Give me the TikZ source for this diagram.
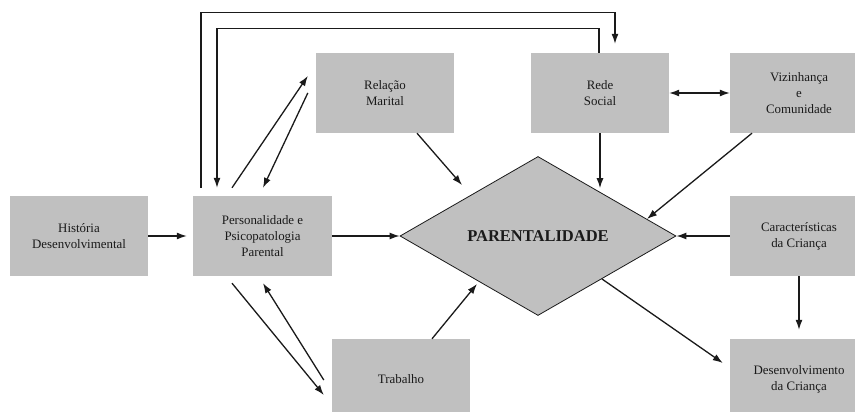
\documentclass[tikz,border=0pt]{standalone}
\usepackage{fontspec}
\setmainfont{Liberation Serif}
\usetikzlibrary{shapes.geometric,arrows.meta,calc}
\definecolor{boxgray}{HTML}{C0C0C0}
\definecolor{ink}{HTML}{1A1A1A}
\begin{document}
\begin{tikzpicture}[x=1pt,y=-1pt,
  box/.style={fill=boxgray, minimum width=138pt, minimum height=80pt, inner sep=0pt, align=center, font=\fontsize{12.9}{16}\selectfont, text=ink},
  arr/.style={draw=ink, line width=1.3pt, -{Latex[length=10pt,width=7pt]}},
  dblarr/.style={draw=ink, line width=1.3pt, {Latex[length=10pt,width=7pt]}-{Latex[length=10pt,width=7pt]}},
  diam/.style={diamond, draw=ink, line width=0.8pt, fill=boxgray, minimum width=276pt, minimum height=159pt, inner sep=0pt, aspect=1.73, font=\bfseries\fontsize{16.5}{18}\selectfont, text=ink}
]
\clip (0,0) rectangle (855,412);
\fill[white] (0,0) rectangle (855,412);
\node[box] (hist) at (79,236) {História\\Desenvolvimental};
\node[box, minimum width=139pt] (pers) at (262.5,236) {Personalidade e\\Psicopatologia\\Parental};
\node[box] (rel) at (385,93) {Relação\\Marital};
\node[box] (rede) at (600,93) {Rede\\Social};
\node[box] (viz) at (799,93) {Vizinhança\\e\\Comunidade};
\node[box] (car) at (799,236) {Características\\da Criança};
\node[box] (des) at (799,379) {Desenvolvimento\\da Criança};
\node[box] (trab) at (401,379) {Trabalho};
\node[diam] (par) at (538,236) {PARENTALIDADE};
% horizontal arrows
\draw[arr, shorten >=6pt] (hist.east) -- (pers.west);
\draw[arr] (pers.east) -- (par.west);
\draw[arr] (car.west) -- (par.east);
\draw[arr, shorten >=9pt] (car.south) -- (des.north);
\draw[arr] ($(par.center)+(64,43)$) -- ($(des.west)+(-7,-16)$);
\draw[arr] ($(trab.north)+(31,0)$) -- ($(par.center)+(-61,48)$);
% Personalidade <-> Trabalho
\draw[arr] ($(pers.south)+(-30.5,7)$) -- ($(trab.west)+(-8,16)$);
\draw[arr] ($(trab.west)+(-8,1)$) -- ($(pers.south)+(0.5,7)$);
% Personalidade <-> Relacao
\draw[arr] ($(pers.north)+(-30.5,-8)$) -- ($(rel.west)+(-8,-17)$);
\draw[arr] ($(rel.west)+(-8,0)$) -- ($(pers.north)+(0.5,-8)$);
% to diamond
\draw[arr] ($(rel.south)+(32,0)$) -- ($(par.center)+(-76,-51)$);
\draw[arr] (rede.south) -- ($(rede.south)+(0,55)$);
\draw[dblarr] (rede.east) -- (viz.west);
\draw[arr] ($(viz.south)+(-47,0)$) -- ($(par.center)+(109,-17)$);
% loops over the top
\draw[arr] ($(pers.north)+(-61.5,-8)$) -- ++(0,-175) -| ($(rede.north)+(15,-9)$);
\draw[arr] ($(rede.north)+(-1,0)$) -- ++(0,-24) -| ($(pers.north)+(-45.5,-8)$);
\end{tikzpicture}
\end{document}
